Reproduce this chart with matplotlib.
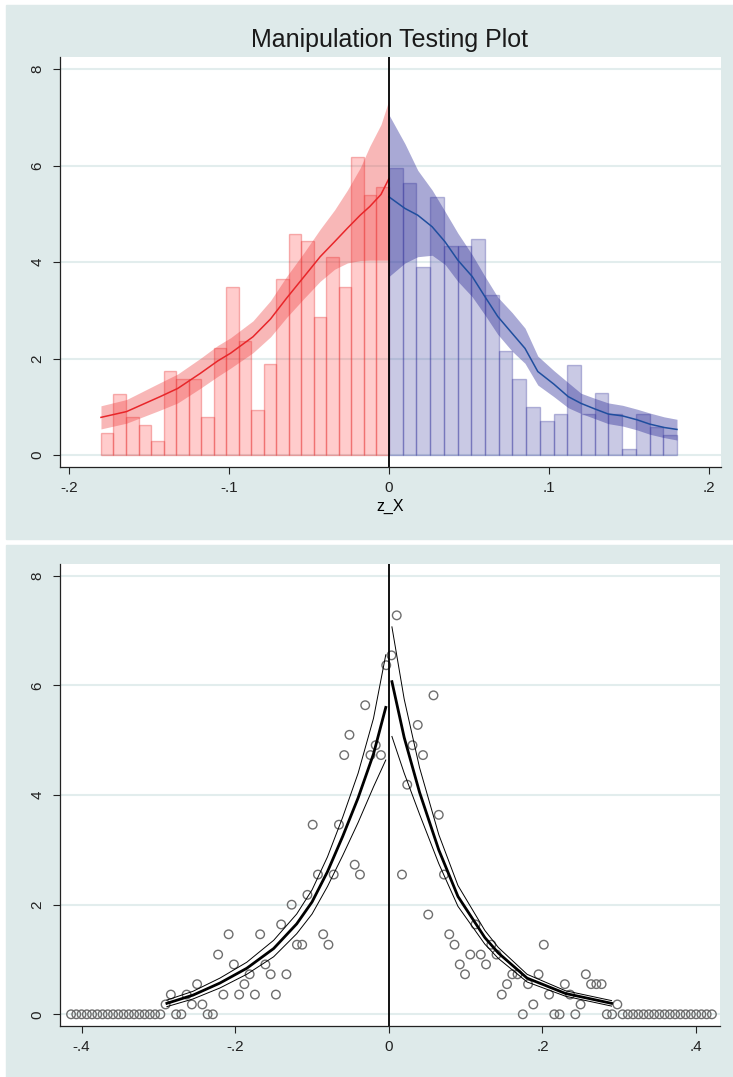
import numpy as np
import matplotlib
matplotlib.use("Agg")
import matplotlib.pyplot as plt
from matplotlib.patches import Rectangle

plt.rcParams['font.family'] = ['Liberation Sans', 'DejaVu Sans']

# ---- top panel: histogram + local fit (left / right of cutoff) ----
left_hist = [0.46, 1.26, 0.78, 0.62, 0.30, 1.74, 1.58, 1.58, 0.78, 2.21, 3.48, 2.36,
             0.94, 1.89, 3.65, 4.59, 4.43, 2.85, 4.11, 3.48, 6.18, 5.38, 5.55]
right_hist = [5.94, 5.63, 3.90, 5.35, 4.33, 4.33, 4.47, 3.32, 2.16, 1.58, 1.00, 0.71,
              0.86, 1.87, 0.86, 1.29, 0.86, 0.13, 0.86, 0.57, 0.41]
hist_range = 0.18

red_x = [-0.18, -0.164, -0.143, -0.132, -0.118, -0.107, -0.099, -0.085, -0.074, -0.064,
         -0.053, -0.043, -0.034, -0.026, -0.018, -0.012, -0.005, 0.0]
red_fit = [0.78, 0.90, 1.21, 1.38, 1.69, 1.95, 2.11, 2.45, 2.82, 3.25,
           3.70, 4.11, 4.42, 4.70, 4.97, 5.15, 5.40, 5.73]
red_hi = [1.02, 1.15, 1.50, 1.68, 2.00, 2.27, 2.43, 2.78, 3.20, 3.70,
          4.20, 4.68, 5.08, 5.49, 5.95, 6.40, 6.85, 7.36]
red_lo = [0.54, 0.66, 0.93, 1.08, 1.38, 1.63, 1.80, 2.12, 2.45, 2.85,
          3.25, 3.60, 3.85, 3.98, 4.03, 4.04, 4.04, 4.04]

blue_x = [0.0, 0.01, 0.018, 0.027, 0.035, 0.043, 0.052, 0.06, 0.068, 0.077, 0.085,
          0.093, 0.103, 0.112, 0.12, 0.129, 0.137, 0.146, 0.155, 0.163, 0.172, 0.18]
blue_fit = [5.35, 5.11, 4.97, 4.73, 4.42, 4.04, 3.70, 3.28, 2.87, 2.52, 2.21,
            1.73, 1.47, 1.21, 1.07, 0.95, 0.85, 0.81, 0.73, 0.64, 0.57, 0.53]
blue_hi = [7.05, 6.45, 5.90, 5.49, 5.05, 4.60, 4.15, 3.70, 3.27, 2.95, 2.63,
           2.05, 1.75, 1.50, 1.28, 1.17, 1.08, 1.03, 0.95, 0.87, 0.79, 0.74]
blue_lo = [3.70, 3.98, 4.11, 4.14, 3.95, 3.60, 3.28, 2.90, 2.50, 2.15, 1.90,
           1.45, 1.21, 0.98, 0.86, 0.75, 0.65, 0.60, 0.52, 0.43, 0.36, 0.31]

# ---- bottom panel: binned density + fitted density with CI ----
bin_w = 0.00684
left_dens = [0] * 18 + [0.18, 0.36, 0, 0, 0.36, 0.18, 0.55, 0.18, 0, 0, 1.09, 0.36, 1.46,
             0.91, 0.36, 0.55, 0.73, 0.36, 1.46, 0.91, 0.73, 0.36, 1.64, 0.73, 2.00,
             1.27, 1.27, 2.18, 3.46, 2.55, 1.46, 1.27, 2.55, 3.46, 4.73, 5.10, 2.73,
             2.55, 5.64, 4.73, 4.91, 4.73, 6.37]
right_dens = [6.55, 7.28, 2.55, 4.19, 4.91, 5.28, 4.73, 1.82, 5.82, 3.64, 2.55, 1.46,
              1.27, 0.91, 0.73, 1.09, 1.64, 1.09, 0.91, 1.27, 1.09, 0.36, 0.55, 0.73,
              0.73, 0, 0.55, 0.18, 0.73, 1.27, 0.36, 0, 0, 0.55, 0.36, 0, 0.18, 0.73,
              0.55, 0.55, 0.55, 0, 0, 0.18] + [0] * 18

fl_x = [-0.289, -0.255, -0.22, -0.185, -0.15, -0.12, -0.10, -0.08, -0.06, -0.04, -0.02, -0.004]
fl_y = [0.20, 0.35, 0.57, 0.84, 1.20, 1.65, 2.05, 2.60, 3.25, 3.95, 4.75, 5.60]
fl_lo = [0.14, 0.28, 0.48, 0.73, 1.05, 1.47, 1.83, 2.33, 2.90, 3.50, 4.15, 4.64]
fl_hi = [0.26, 0.42, 0.66, 0.95, 1.35, 1.83, 2.27, 2.87, 3.60, 4.40, 5.40, 6.56]

fr_x = [0.004, 0.02, 0.04, 0.065, 0.09, 0.125, 0.1425, 0.18, 0.23, 0.29]
fr_y = [6.07, 5.05, 4.05, 3.00, 2.15, 1.40, 1.12, 0.66, 0.38, 0.20]
fr_lo = [5.07, 4.40, 3.65, 2.75, 1.97, 1.28, 1.02, 0.59, 0.33, 0.15]
fr_hi = [7.07, 5.75, 4.50, 3.28, 2.35, 1.53, 1.22, 0.73, 0.43, 0.25]

bg = '#deeaea'
grid_c = '#e2eded'

fig = plt.figure(figsize=(7.33, 10.77), dpi=100)
fig.patches.append(Rectangle((6 / 733, 1 - 539 / 1077), 1, 534 / 1077,
                             transform=fig.transFigure, color=bg, zorder=-10))
fig.patches.append(Rectangle((6 / 733, 0), 1, 1 - 545 / 1077,
                             transform=fig.transFigure, color=bg, zorder=-10))


def style_axes(ax):
    for s in ['top', 'right']:
        ax.spines[s].set_visible(False)
    for s in ['left', 'bottom']:
        ax.spines[s].set_color('#222222')
        ax.spines[s].set_linewidth(0.9)
    ax.tick_params(direction='out', length=5, width=0.8, labelsize=11, colors='#222222')
    ax.tick_params(axis='y', pad=6)
    ax.tick_params(axis='x', pad=5)
    ax.set_yticks([0, 2, 4, 6, 8])
    ax.set_yticklabels(['0', '2', '4', '6', '8'], rotation=90, va='center')
    ax.yaxis.grid(True, color=grid_c, linewidth=1.5)
    ax.set_axisbelow(True)


# top
ax1 = fig.add_axes([60 / 733, 1 - 466.7 / 1077, 661 / 733, 409.7 / 1077])
ax1.set_zorder(1)
style_axes(ax1)
wl = hist_range / len(left_hist)
wr = hist_range / len(right_hist)
l_edges = np.linspace(-hist_range, 0, len(left_hist) + 1)[:-1]
r_edges = np.linspace(0, hist_range, len(right_hist) + 1)[:-1]
ax1.bar(l_edges, left_hist, width=wl, align='edge', color=(1, 0, 0, 0.2),
        edgecolor=(0.9, 0.2, 0.2, 0.35), linewidth=1, zorder=2)
ax1.bar(r_edges, right_hist, width=wr, align='edge', color=(0.16, 0.16, 0.59, 0.25),
        edgecolor=(0.16, 0.16, 0.59, 0.3), linewidth=1, zorder=2)
ax1.fill_between(red_x, red_lo, red_hi, color=(0.93, 0.2, 0.2), alpha=0.35, linewidth=0, zorder=3)
ax1.fill_between(blue_x, blue_lo, blue_hi, color=(0.16, 0.16, 0.59), alpha=0.4, linewidth=0, zorder=3)
ax1.plot(red_x, red_fit, color='#e8262a', lw=1.1, zorder=4)
ax1.plot(blue_x, blue_fit, color='#1f4e9e', lw=1.1, zorder=4)
ax1.axvline(0, color='black', lw=1.3, zorder=5)
ax1.set_xlim(-0.2056, 0.2075)
ax1.set_ylim(-0.2425, 8.249)
ax1.set_xticks([-0.2, -0.1, 0, 0.1, 0.2])
ax1.set_xticklabels(['-.2', '-.1', '0', '.1', '.2'])
ax1.set_xlabel('z_X', fontsize=11.5, labelpad=3)
fig.text(389 / 733, 1 - 40 / 1077, 'Manipulation Testing Plot', ha='center', va='center',
         fontsize=18, color='#1a1a1a')

# bottom
ax2 = fig.add_axes([60 / 733, 1 - 1025.7 / 1077, 660 / 733, 461.7 / 1077])
ax2.set_zorder(1)
style_axes(ax2)
lx = -(np.arange(len(left_dens))[::-1] + 0.5) * bin_w
rx = (np.arange(len(right_dens)) + 0.5) * bin_w
ax2.scatter(lx, left_dens, s=38, facecolors='none', edgecolors='#6e6e6e', linewidths=1.0, zorder=3)
ax2.scatter(rx, right_dens, s=38, facecolors='none', edgecolors='#6e6e6e', linewidths=1.0, zorder=3)
for xs, ys, lo, hi in [(fl_x, fl_y, fl_lo, fl_hi), (fr_x, fr_y, fr_lo, fr_hi)]:
    ax2.plot(xs, ys, color='black', lw=2.0, zorder=4)
    ax2.plot(xs, lo, color='black', lw=0.7, zorder=4)
    ax2.plot(xs, hi, color='black', lw=0.7, zorder=4)
ax2.axvline(0, color='black', lw=1.3, zorder=5)
ax2.set_xlim(-0.4282, 0.4312)
ax2.set_ylim(-0.208, 8.217)
ax2.set_xticks([-0.4, -0.2, 0, 0.2, 0.4])
ax2.set_xticklabels(['-.4', '-.2', '0', '.2', '.4'])

fig.savefig('out.png', dpi=100)
